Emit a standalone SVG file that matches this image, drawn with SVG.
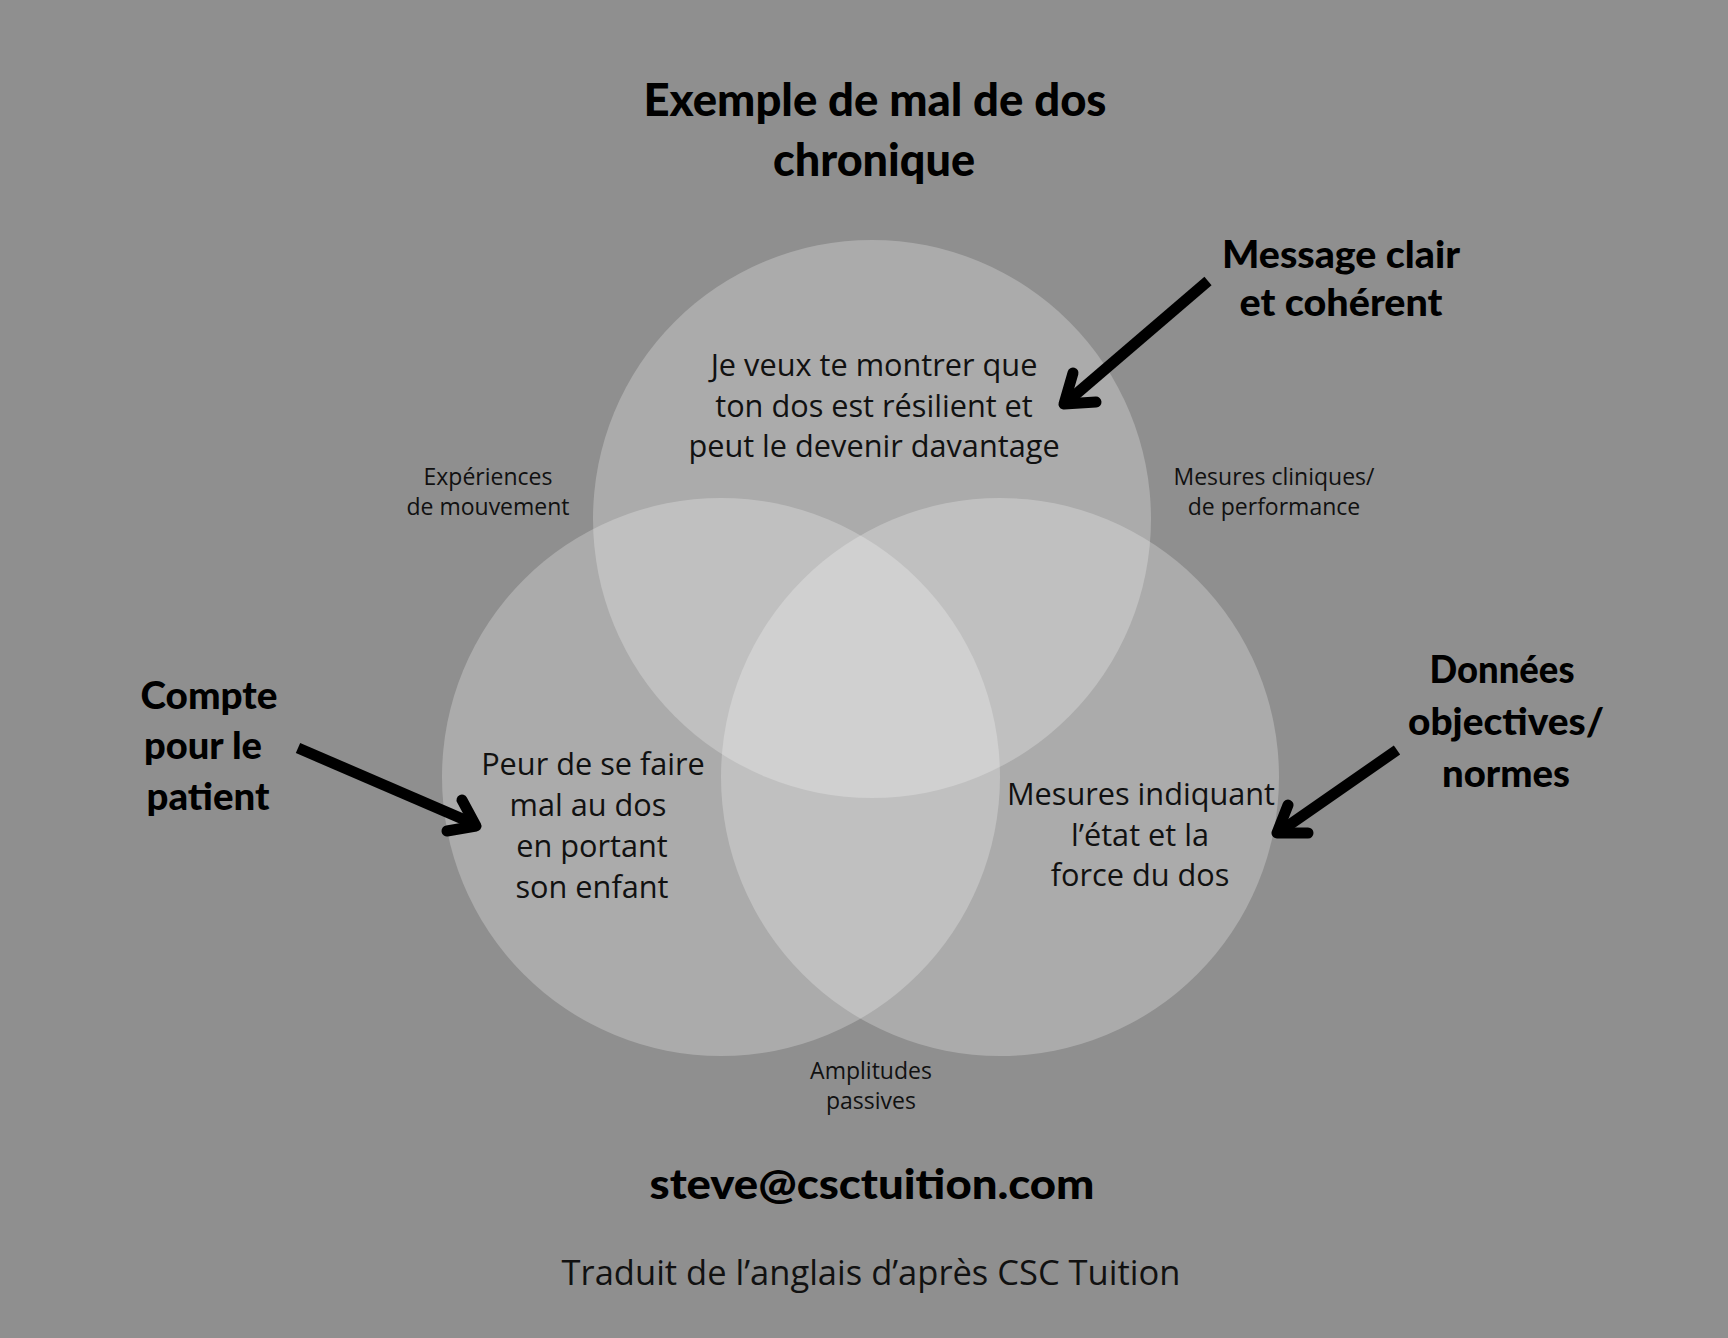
<svg xmlns="http://www.w3.org/2000/svg" width="1728" height="1338" viewBox="0 0 1728 1338">
<style>
.hand{font-family:"Lato","Liberation Sans",sans-serif;font-weight:900;fill:#000;text-anchor:middle}
.body{font-family:"Open Sans","Liberation Sans",sans-serif;fill:#111;text-anchor:middle}
.big{font-size:30.7px}
.small{font-size:23px}
.circ{fill:#ffffff;fill-opacity:0.25}
.shaft{fill:none;stroke:#000;stroke-width:11;stroke-linecap:butt}
.head{fill:none;stroke:#000;stroke-width:11;stroke-linecap:round;stroke-linejoin:round}
</style>
<rect x="0" y="0" width="1728" height="1338" fill="#8f8f8f"/>
<g id="title">
<text class="hand" x="875" y="116" font-size="46" textLength="463" lengthAdjust="spacingAndGlyphs">Exemple de mal de dos</text>
<text class="hand" x="874" y="176" font-size="46" textLength="202" lengthAdjust="spacingAndGlyphs">chronique</text>
</g>
<g id="circle-top"><circle class="circ" cx="872" cy="519" r="279"/></g>
<g id="circle-left"><circle class="circ" cx="721" cy="777" r="279"/></g>
<g id="circle-right"><circle class="circ" cx="1000" cy="777" r="279"/></g>
<g id="text-top">
<text class="body big" x="874" y="376">Je veux te montrer que</text>
<text class="body big" x="874" y="417">ton dos est résilient et</text>
<text class="body big" x="874" y="457">peut le devenir davantage</text>
</g>
<g id="text-left">
<text class="body big" x="593" y="775">Peur de se faire</text>
<text class="body big" x="588" y="816">mal au dos</text>
<text class="body big" x="592" y="857">en portant</text>
<text class="body big" x="592" y="898">son enfant</text>
</g>
<g id="text-right">
<text class="body big" x="1141" y="805">Mesures indiquant</text>
<text class="body big" x="1140" y="846">l’état et la</text>
<text class="body big" x="1140" y="886">force du dos</text>
</g>
<g id="label-exp">
<text class="body small" x="488" y="485">Expériences</text>
<text class="body small" x="488" y="515">de mouvement</text>
</g>
<g id="label-mes">
<text class="body small" x="1274" y="485">Mesures cliniques/</text>
<text class="body small" x="1274" y="515">de performance</text>
</g>
<g id="label-amp">
<text class="body small" x="871" y="1079">Amplitudes</text>
<text class="body small" x="871" y="1109">passives</text>
</g>
<g id="note-message">
<text class="hand" x="1341" y="268" font-size="38" textLength="238" lengthAdjust="spacingAndGlyphs">Message clair</text>
<text class="hand" x="1341" y="316" font-size="38" textLength="203" lengthAdjust="spacingAndGlyphs">et cohérent</text>
</g>
<g id="note-compte">
<text class="hand" x="209" y="709" font-size="38" textLength="137" lengthAdjust="spacingAndGlyphs">Compte</text>
<text class="hand" x="203" y="759" font-size="38" textLength="118" lengthAdjust="spacingAndGlyphs">pour le</text>
<text class="hand" x="208" y="810" font-size="38" textLength="123" lengthAdjust="spacingAndGlyphs">patient</text>
</g>
<g id="note-donnees">
<text class="hand" x="1502" y="683" font-size="38" textLength="145" lengthAdjust="spacingAndGlyphs">Données</text>
<text class="hand" x="1506" y="735" font-size="38" textLength="196" lengthAdjust="spacingAndGlyphs">objectives/</text>
<text class="hand" x="1506" y="787" font-size="38" textLength="128" lengthAdjust="spacingAndGlyphs">normes</text>
</g>
<g id="connectors">
<path class="shaft" d="M1208,281 L1068,401"/>
<path class="head" d="M1073,373 L1064,404 L1096,402"/>
<path class="shaft" d="M298,748 L472,823"/>
<path class="head" d="M462,800 L476,826 L447,831"/>
<path class="shaft" d="M1397,750 L1282,830"/>
<path class="head" d="M1288,805 L1277,833 L1308,833"/>
</g>
<g id="footer">
<text class="hand" x="872" y="1199" font-size="42" textLength="445" lengthAdjust="spacingAndGlyphs">steve@csctuition.com</text>
<text class="body" x="871" y="1285" font-size="34.5">Traduit de l’anglais d’après CSC Tuition</text>
</g>
</svg>
